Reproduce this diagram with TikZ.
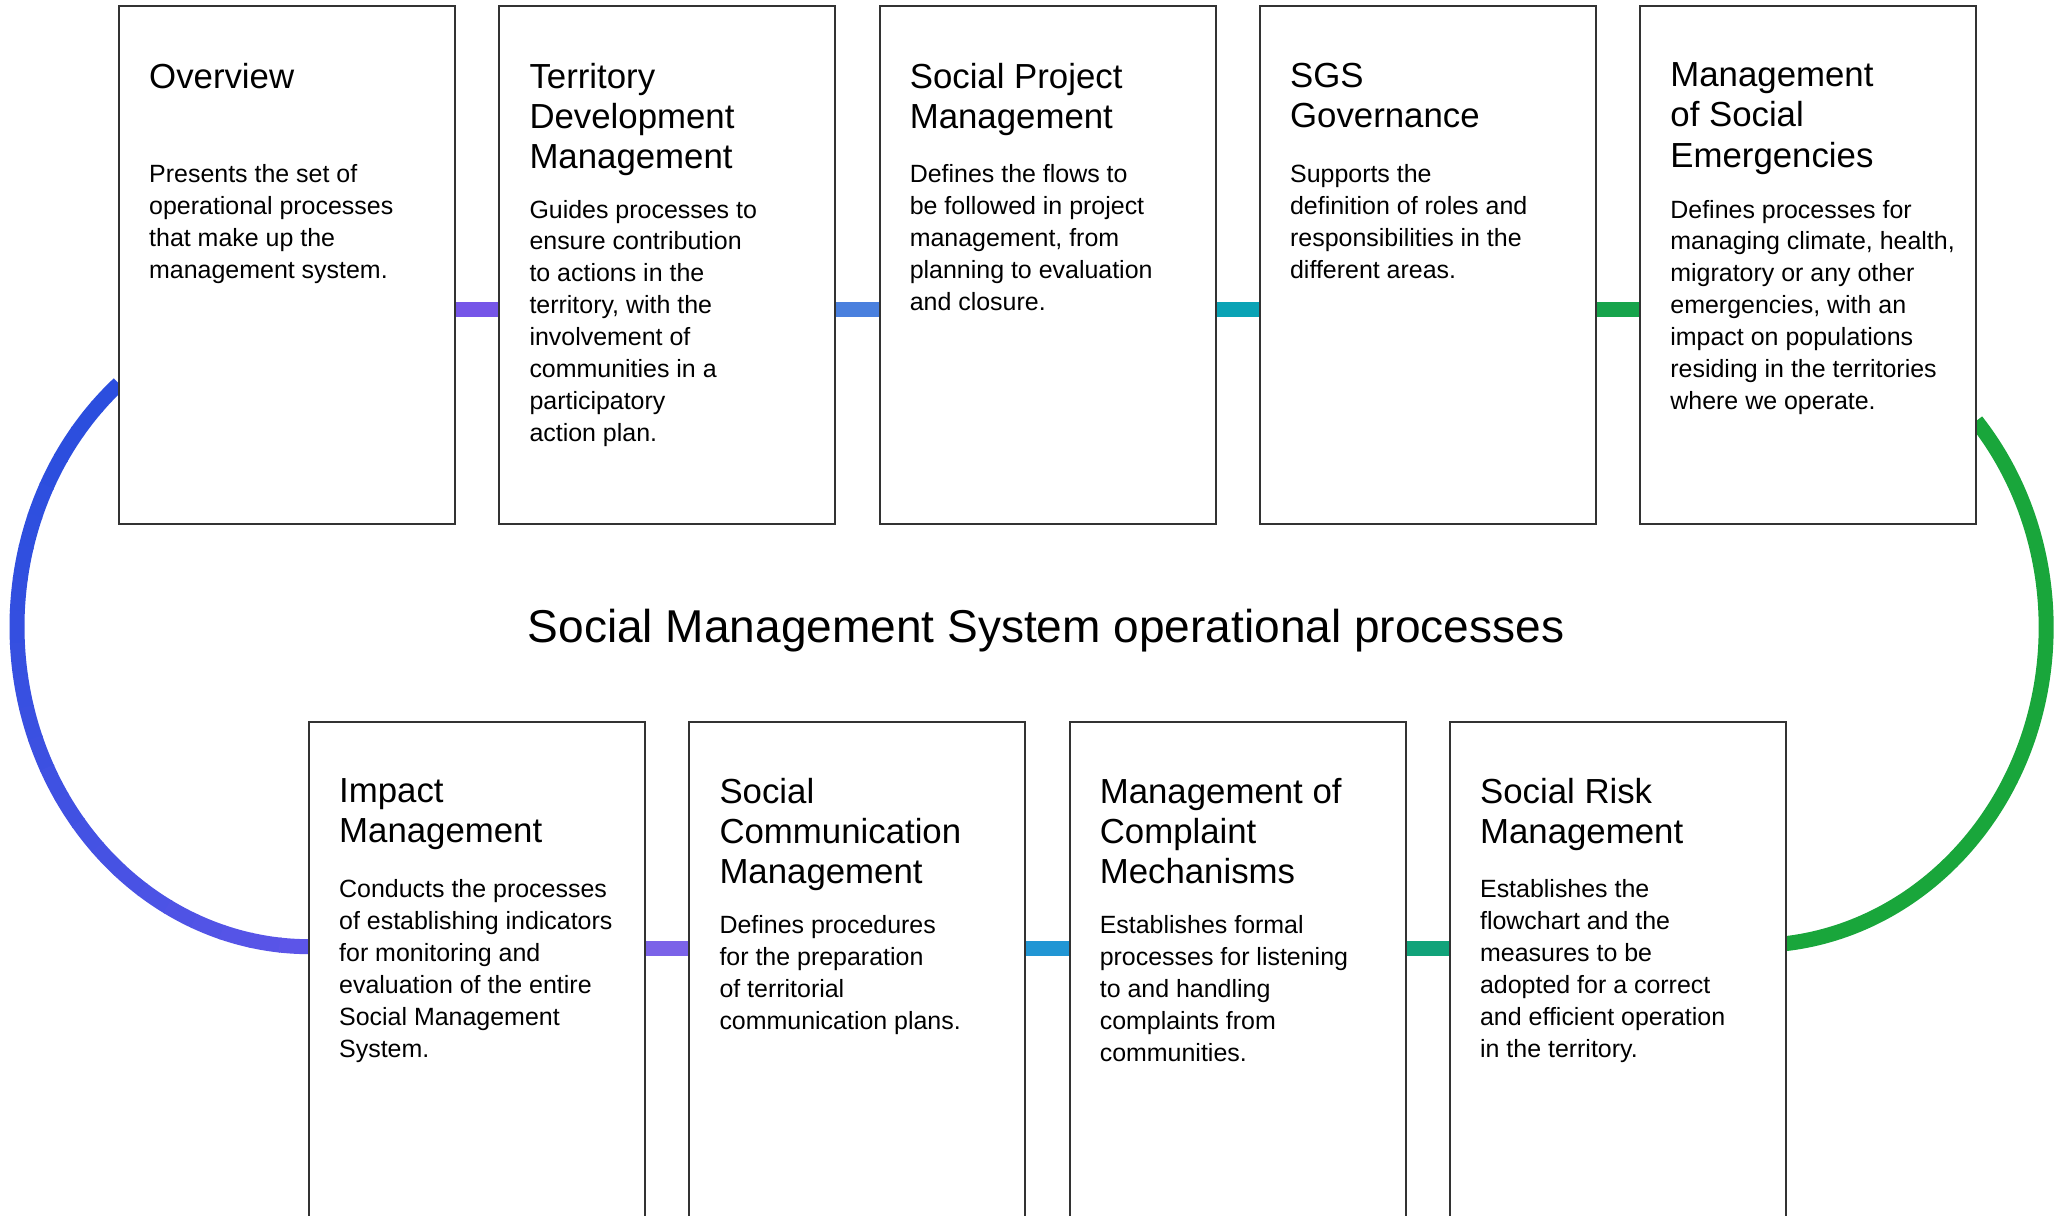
\documentclass[tikz,border=0pt]{standalone}
\usepackage{fontspec}
\setmainfont{Liberation Sans}
\usepackage{tikz}
\usetikzlibrary{positioning, calc, backgrounds}
\usepackage{xcolor}
\definecolor{frame}{HTML}{333333}
\definecolor{linkA}{HTML}{7656E8}
\definecolor{linkB}{HTML}{4A80DE}
\definecolor{linkC}{HTML}{0AA3B5}
\definecolor{linkD}{HTML}{17A44C}
\definecolor{linkE}{HTML}{7B63E8}
\definecolor{linkF}{HTML}{2196D4}
\definecolor{linkG}{HTML}{11A37A}
\definecolor{arcA}{HTML}{2B4EDE}
\definecolor{arcB}{HTML}{5C55E8}
\definecolor{arcR}{HTML}{19A63B}

\begin{document}
\begin{tikzpicture}[
    box/.style={draw=frame, line width=0.6pt, fill=white, minimum width=3.36cm,
                minimum height=5.175cm, inner sep=0pt, outer sep=0pt},
    lowbox/.style={box, minimum height=5.2cm},
    ttl/.style={font=\fontsize{9.9}{11.4}\selectfont, align=left, anchor=north west, inner sep=0pt},
    txt/.style={font=\fontsize{7.1}{9.1}\selectfont, align=left, anchor=north west, inner sep=0pt},
    link/.style={line width=0.15cm},
    node distance=0.443cm
]
    \clip (0,0) rectangle (20.69,12.16);

    % upper row
    \node[box] (ov) at (2.87,9.51) {};
    \node[box, right=of ov] (tdm) {};
    \node[box, right=of tdm] (spm) {};
    \node[box, right=of spm] (sgs) {};
    \node[box, right=of sgs] (mse) {};

    % lower row
    \node[lowbox] (imp) at (4.77,2.343) {};
    \node[lowbox, right=of imp] (scm) {};
    \node[lowbox, right=of scm] (mcm) {};
    \node[lowbox, right=of mcm] (srm) {};

    \node[ttl] (ovt) at ([shift={(0.295,-0.56)}]ov.north west) {Overview};
    \node[txt] (ovb) at ([shift={(0.295,-1.572)}]ov.north west)
        {Presents the set of\\operational processes\\that make up the\\management system.};

    \node[ttl] (tdmt) at ([shift={(0.295,-0.56)}]tdm.north west) {Territory\\Development\\Management};
    \node[txt] (tdmb) at ([shift={(0.295,-1.93)}]tdm.north west)
        {Guides processes to\\ensure contribution\\to actions in the\\territory, with the\\involvement of\\communities in a\\participatory\\action plan.};

    \node[ttl] (spmt) at ([shift={(0.295,-0.56)}]spm.north west) {Social Project\\Management};
    \node[txt] (spmb) at ([shift={(0.295,-1.572)}]spm.north west)
        {Defines the flows to\\be followed in project\\management, from\\planning to evaluation\\and closure.};

    \node[ttl] (sgst) at ([shift={(0.295,-0.56)}]sgs.north west) {SGS\\Governance};
    \node[txt] (sgsb) at ([shift={(0.295,-1.572)}]sgs.north west)
        {Supports the\\definition of roles and\\responsibilities in the\\different areas.};

    \node[ttl] (mset) at ([shift={(0.295,-0.56)}]mse.north west) {Management\\of Social\\Emergencies};
    \node[txt] (mseb) at ([shift={(0.295,-1.93)}]mse.north west)
        {Defines processes for\\managing climate, health,\\migratory or any other\\emergencies, with an\\impact on populations\\residing in the territories\\where we operate.};

    \node[ttl] (impt) at ([shift={(0.295,-0.56)}]imp.north west) {Impact\\Management};
    \node[txt] (impb) at ([shift={(0.295,-1.572)}]imp.north west)
        {Conducts the processes\\of establishing indicators\\for monitoring and\\evaluation of the entire\\Social Management\\System.};

    \node[ttl] (scmt) at ([shift={(0.295,-0.56)}]scm.north west) {Social\\Communication\\Management};
    \node[txt] (scmb) at ([shift={(0.295,-1.93)}]scm.north west)
        {Defines procedures\\for the preparation\\of territorial\\communication plans.};

    \node[ttl] (mcmt) at ([shift={(0.295,-0.56)}]mcm.north west) {Management of\\Complaint\\Mechanisms};
    \node[txt] (mcmb) at ([shift={(0.295,-1.93)}]mcm.north west)
        {Establishes formal\\processes for listening\\to and handling\\complaints from\\communities.};

    \node[ttl] (srmt) at ([shift={(0.295,-0.56)}]srm.north west) {Social Risk\\Management};
    \node[txt] (srmb) at ([shift={(0.295,-1.572)}]srm.north west)
        {Establishes the\\flowchart and the\\measures to be\\adopted for a correct\\and efficient operation\\in the territory.};

    \node[font=\fontsize{13.1}{15}\selectfont, anchor=base, inner sep=0pt] (head) at (10.46,5.73)
        {Social Management System operational processes};

    \begin{scope}[on background layer]
        \draw[link, linkA] ([yshift=-3.03cm]ov.north east) -- ([yshift=-3.03cm]tdm.north west);
        \draw[link, linkB] ([yshift=-3.03cm]tdm.north east) -- ([yshift=-3.03cm]spm.north west);
        \draw[link, linkC] ([yshift=-3.03cm]spm.north east) -- ([yshift=-3.03cm]sgs.north west);
        \draw[link, linkD] ([yshift=-3.03cm]sgs.north east) -- ([yshift=-3.03cm]mse.north west);

        \draw[link, linkE] ([yshift=-2.27cm]imp.north east) -- ([yshift=-2.27cm]scm.north west);
        \draw[link, linkF] ([yshift=-2.27cm]scm.north east) -- ([yshift=-2.27cm]mcm.north west);
        \draw[link, linkG] ([yshift=-2.27cm]mcm.north east) -- ([yshift=-2.27cm]srm.north west);

        % left loop, blue fading to violet
        \coordinate (lc) at ([yshift=0.95cm]imp.north west);
        \foreach \i [evaluate=\i as \pct using {int(100*(\i/23)^1.6)},
                     evaluate=\i as \a using {130.6+5.808*\i}] in {0,...,23}
            \draw[link, arcB!\pct!arcA] (lc) ++(\a:2.92cm and 3.2cm)
                arc[start angle=\a, end angle=\a+6.1, x radius=2.92cm, y radius=3.2cm];

        % right loop
        \draw[link, arcR] ([yshift=-4.1475cm]mse.north east)
            arc[start angle=40.5, end angle=-83.9, x radius=2.92cm, y radius=3.18cm];
    \end{scope}
\end{tikzpicture}
\end{document}
